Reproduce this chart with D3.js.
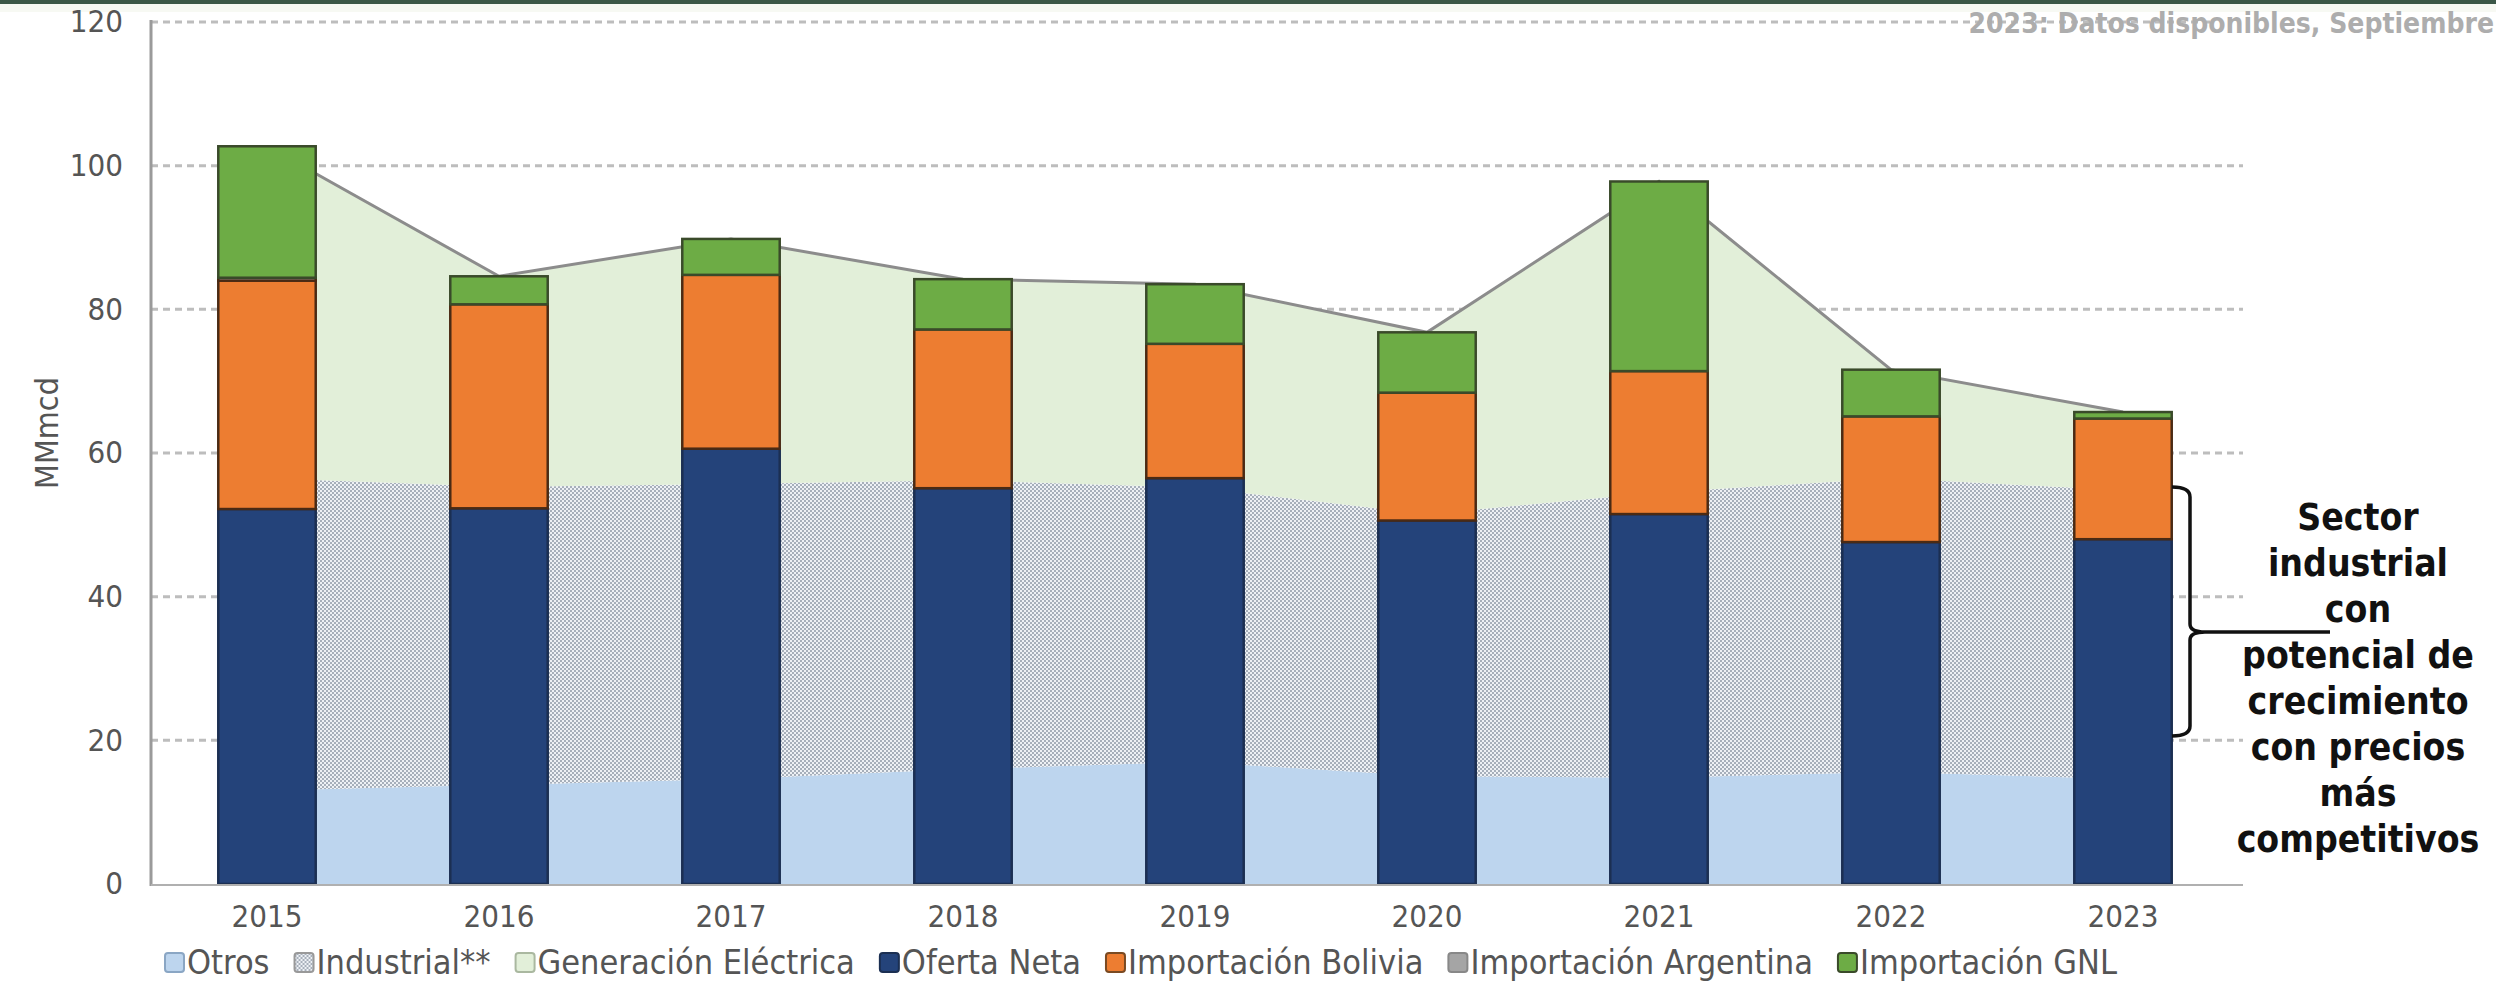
<!DOCTYPE html>
<html>
<head>
<meta charset="utf-8">
<script src="https://cdn.jsdelivr.net/npm/d3@7"></script>
<style>
  body { margin: 0; background: #fff; }
  svg { display: block; }
</style>
</head>
<body>
<svg id="chart" width="2496" height="1003"></svg>
<script>
// data (MMmcd)
var years = ['2015', '2016', '2017', '2018', '2019', '2020', '2021', '2022', '2023'];
var yTicks = [0, 20, 40, 60, 80, 100, 120];

// demand side (areas)
var otros = [13.0, 13.8, 14.6, 16.0, 17.0, 15.0, 14.8, 15.6, 14.6];
var industrial = [43.5, 41.5, 41.1, 40.2, 38.2, 36.5, 39.7, 40.9, 40.2];
var generacion = [46.2, 29.3, 34.1, 28.0, 28.3, 25.3, 43.3, 15.1, 10.9];

// supply side (bars)
var ofertaNeta = [52.2, 52.3, 60.6, 55.1, 56.5, 50.6, 51.5, 47.6, 48.0];
var bolivia = [31.8, 28.4, 24.2, 22.1, 18.7, 17.8, 19.9, 17.5, 16.8];
var argentina = [0.4, 0, 0, 0, 0, 0, 0, 0, 0];
var gnl = [18.3, 3.9, 5.0, 7.0, 8.3, 8.4, 26.4, 6.5, 0.9];

var noteLines = ['Sector', 'industrial', 'con', 'potencial de', 'crecimiento', 'con precios', 'más', 'competitivos'];

var svg = d3.select('#chart');
var W = 2496;
var labelFont = '"DejaVu Sans Condensed", "Liberation Sans Narrow", sans-serif';
var boldFont = '"DejaVu Sans Condensed", "DejaVu Sans", sans-serif';

// top band
svg.append('rect').attr('x', 0).attr('y', 0).attr('width', W).attr('height', 4).attr('fill', '#3b5747');
svg.append('rect').attr('x', 0).attr('y', 4).attr('width', W).attr('height', 8).attr('fill', '#f7f9f3');

// dotted pattern for Industrial
var defs = svg.append('defs');
var pat = defs.append('pattern').attr('id', 'dots')
  .attr('patternUnits', 'userSpaceOnUse').attr('width', 4).attr('height', 4);
pat.append('rect').attr('width', 4).attr('height', 4).attr('fill', '#eef1f5');
pat.append('circle').attr('cx', 1).attr('cy', 1).attr('r', 0.95).attr('fill', '#8893a2');
pat.append('circle').attr('cx', 3).attr('cy', 3).attr('r', 0.95).attr('fill', '#8893a2');

var x = d3.scaleBand().domain(years).range([151, 2239]).paddingInner(0.58).paddingOuter(0.29);
var y = d3.scaleLinear().domain([0, 120]).range([884, 22]);
var cx = function(d) { return x(d) + x.bandwidth() / 2; };

// gridlines
svg.append('g').selectAll('line').data(yTicks.filter(function(t) { return t > 0; }))
  .enter().append('line')
  .attr('x1', 151).attr('x2', function(t) { return t === 120 ? 2215 : 2243; })
  .attr('y1', function(t) { return y(t); }).attr('y2', function(t) { return y(t); })
  .attr('stroke', '#bdbdbd').attr('stroke-width', 3).attr('stroke-dasharray', '7,5');

// stacked areas (demand)
var demandKeys = ['otros', 'industrial', 'generacion'];
var demandRows = years.map(function(yr, i) {
  return { year: yr, otros: otros[i], industrial: industrial[i], generacion: generacion[i] };
});
var demandStack = d3.stack().keys(demandKeys)(demandRows);
var areaFill = { otros: '#bdd5ee', industrial: 'url(#dots)', generacion: '#e2efd9' };

var area = d3.area()
  .x(function(d) { return cx(d.data.year); })
  .y0(function(d) { return y(d[0]); })
  .y1(function(d) { return y(d[1]); });

svg.append('g').selectAll('path').data(demandStack).enter().append('path')
  .attr('d', area)
  .attr('fill', function(s) { return areaFill[s.key]; });

// total demand line
var topLine = d3.line()
  .x(function(d) { return cx(d.data.year); })
  .y(function(d) { return y(d[1]); });
svg.append('path').datum(demandStack[2])
  .attr('d', topLine).attr('fill', 'none')
  .attr('stroke', '#8c8c8c').attr('stroke-width', 3);

// stacked bars (supply)
var supplyKeys = ['ofertaNeta', 'bolivia', 'argentina', 'gnl'];
var supplyRows = years.map(function(yr, i) {
  return { year: yr, ofertaNeta: ofertaNeta[i], bolivia: bolivia[i], argentina: argentina[i], gnl: gnl[i] };
});
var supplyStack = d3.stack().keys(supplyKeys)(supplyRows);
var barFill = { ofertaNeta: '#24437a', bolivia: '#ed7d31', argentina: '#a5a5a5', gnl: '#6dac45' };
var barStroke = { ofertaNeta: '#1b2f52', bolivia: '#4a2a14', argentina: '#4a2a14', gnl: '#3a4a2a' };

svg.append('g').selectAll('g').data(supplyStack).enter().append('g')
  .attr('fill', function(s) { return barFill[s.key]; })
  .attr('stroke', function(s) { return barStroke[s.key]; })
  .attr('stroke-width', 2.5)
  .selectAll('rect').data(function(s) { return s.filter(function(d) { return d[1] - d[0] > 0; }); })
  .enter().append('rect')
  .attr('x', function(d) { return x(d.data.year); })
  .attr('width', x.bandwidth())
  .attr('y', function(d) { return y(d[1]); })
  .attr('height', function(d) { return y(d[0]) - y(d[1]); });

// axes lines
svg.append('line').attr('x1', 151).attr('x2', 151).attr('y1', 20).attr('y2', 886)
  .attr('stroke', '#9a9a9a').attr('stroke-width', 3);
svg.append('line').attr('x1', 151).attr('x2', 2243).attr('y1', 885).attr('y2', 885)
  .attr('stroke', '#b0b0b0').attr('stroke-width', 2);

// y axis labels
var yAxis = d3.axisLeft(y).tickValues(yTicks).tickSize(0).tickPadding(14);
var gy = svg.append('g').attr('transform', 'translate(137,0)').call(yAxis);
gy.select('.domain').remove();
gy.selectAll('text').attr('font-family', labelFont).attr('font-size', 31).attr('fill', '#555');

// x axis labels
var xAxis = d3.axisBottom(x).tickSize(0).tickPadding(20);
var gx = svg.append('g').attr('transform', 'translate(0,885)').call(xAxis);
gx.select('.domain').remove();
gx.selectAll('text').attr('font-family', labelFont).attr('font-size', 31).attr('fill', '#555');

// y title
svg.append('text').attr('transform', 'translate(58,433) rotate(-90)')
  .attr('text-anchor', 'middle').attr('font-family', labelFont).attr('font-size', 32)
  .attr('fill', '#555').text('MMmcd');

// legend
var legendItems = [
  { label: 'Otros', fill: '#bdd5ee', stroke: '#8aa6c4' },
  { label: 'Industrial**', fill: 'url(#dots)', stroke: '#999' },
  { label: 'Generación Eléctrica', fill: '#e2efd9', stroke: '#aab8a0' },
  { label: 'Oferta Neta', fill: '#24437a', stroke: '#1b2f52' },
  { label: 'Importación Bolivia', fill: '#ed7d31', stroke: '#7a4a22' },
  { label: 'Importación Argentina', fill: '#a5a5a5', stroke: '#888' },
  { label: 'Importación GNL', fill: '#6dac45', stroke: '#3a4a2a' }
];
var lg = svg.append('g').attr('transform', 'translate(165,963)');
var lx = 0;
legendItems.forEach(function(it) {
  var g = lg.append('g').attr('transform', 'translate(' + lx + ',0)');
  g.append('rect').attr('x', 0).attr('y', -10).attr('width', 19).attr('height', 19)
    .attr('rx', 3).attr('fill', it.fill).attr('stroke', it.stroke).attr('stroke-width', 2);
  var t = g.append('text').attr('x', 22).attr('y', 11)
    .attr('font-family', labelFont).attr('font-size', 34).attr('fill', '#555').text(it.label);
  lx += 22 + t.node().getComputedTextLength() + 25;
});

// note at top right
svg.append('text').attr('x', 2494).attr('y', 33).attr('text-anchor', 'end')
  .attr('font-family', boldFont).attr('font-weight', 'bold').attr('font-size', 28)
  .attr('fill', '#adadad').text('2023: Datos disponibles, Septiembre');

// bracket and annotation
svg.append('path')
  .attr('d', 'M2172,487 Q2190,487 2190,497 L2190,624 Q2190,632 2205,632 L2330,632 M2205,632 Q2190,632 2190,640 L2190,726 Q2190,736 2172,736')
  .attr('fill', 'none').attr('stroke', '#111').attr('stroke-width', 3.5);

svg.append('g').selectAll('text').data(noteLines).enter().append('text')
  .attr('x', 2358).attr('y', function(d, i) { return 530 + i * 46; })
  .attr('text-anchor', 'middle')
  .attr('font-family', boldFont).attr('font-weight', 'bold').attr('font-size', 37)
  .attr('fill', '#111').text(function(d) { return d; });
</script>
</body>
</html>
